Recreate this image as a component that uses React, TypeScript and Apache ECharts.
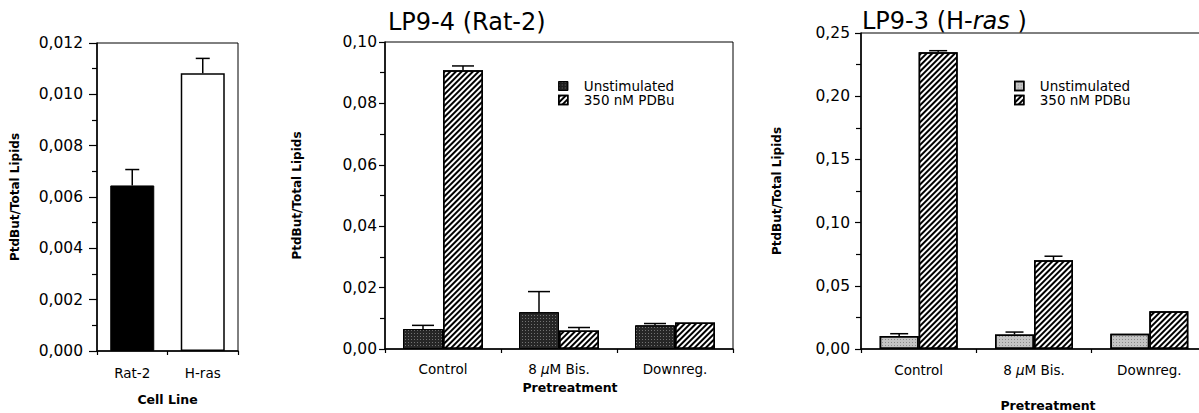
import React, { useEffect, useRef } from 'react';
import * as echarts from 'echarts';

// ---------- data ----------
const cellLines = ['Rat-2', 'H-ras'];
const cellLineValues = [0.00645, 0.01082];
const cellLineErrTop = [0.00707, 0.01140];

const pretreatments = ['Control', '8 µM Bis.', 'Downreg.'];
const seriesNames = ['Unstimulated', '350 nM PDBu'];

// LP9-4 (Rat-2)
const rat2Unstim = [0.0065, 0.0120, 0.0077];
const rat2UnstimErrTop = [0.0077, 0.0187, 0.0083];
const rat2Pdbu = [0.0908, 0.0060, 0.0086];
const rat2PdbuErrTop = [0.0922, 0.0070, null];

// LP9-3 (H-ras)
const hrasUnstim = [0.0102, 0.0115, 0.0121];
const hrasUnstimErrTop = [0.0121, 0.0134, null];
const hrasPdbu = [0.2347, 0.0702, 0.0298];
const hrasPdbuErrTop = [0.2360, 0.0734, null];

const FONT = 'DejaVu Sans';

const hatchDecal = {
  symbol: 'rect',
  symbolSize: 1,
  color: '#000',
  dashArrayX: [1, 0],
  dashArrayY: [1.1, 1.9],
  rotation: -Math.PI / 4,
};
const darkDotDecal = {
  symbol: 'rect',
  symbolSize: 1,
  color: 'rgba(255,255,255,0.35)',
  dashArrayX: [1, 2],
  dashArrayY: [1, 2],
  rotation: 0,
};
const lightDotDecal = {
  symbol: 'rect',
  symbolSize: 1,
  color: 'rgba(90,90,90,0.55)',
  dashArrayX: [1, 2],
  dashArrayY: [1, 2],
  rotation: 0,
};

function errSeries(axis: number, vals: number[], errs: (number | null)[], offsetPx: number, capHalf: number) {
  const data: any[] = [];
  vals.forEach((v, i) => {
    if (errs[i] != null) data.push([i, v, errs[i]]);
  });
  return {
    type: 'custom',
    xAxisIndex: axis,
    yAxisIndex: axis,
    silent: true,
    z: 5,
    data,
    encode: { x: 0, y: 2 },
    renderItem: (params: any, api: any) => {
      const i = api.value(0);
      const p0 = api.coord([i, api.value(1)]);
      const p1 = api.coord([i, api.value(2)]);
      const x = p0[0] + offsetPx;
      const st = { stroke: '#000', lineWidth: 1.5 };
      return {
        type: 'group',
        children: [
          { type: 'line', shape: { x1: x, y1: p0[1], x2: x, y2: p1[1] }, style: st },
          { type: 'line', shape: { x1: x - capHalf, y1: p1[1], x2: x + capHalf, y2: p1[1] }, style: st },
        ],
      };
    },
  };
}

const tickFmt = (d: number) => (v: number) => v.toFixed(d).replace('.', ',');

function yAxis(grid: number, max: number, interval: number, digits: number, nameGap: number, labelMargin: number, tickLen: number) {
  return {
    type: 'value',
    gridIndex: grid,
    min: 0,
    max,
    interval,
    name: 'PtdBut/Total Lipids',
    nameLocation: 'middle',
    nameRotate: 90,
    nameGap,
    nameTextStyle: { fontFamily: FONT, fontSize: 12, fontWeight: 'bold', color: '#000' },
    axisLine: { show: true, lineStyle: { color: '#000', width: 1.5 } },
    axisTick: { show: true, length: tickLen, lineStyle: { color: '#000', width: 1.2 } },
    minorTick: { show: true, splitNumber: 2, length: 5, lineStyle: { color: '#000', width: 1.2 } },
    splitLine: { show: false },
    minorSplitLine: { show: false },
    axisLabel: { fontFamily: FONT, fontSize: 15.5, color: '#000', margin: labelMargin, formatter: tickFmt(digits) },
  };
}

function xAxis(grid: number, cats: string[], name: string, nameGap: number, labelMargin: number, namePad: number) {
  return {
    type: 'category',
    gridIndex: grid,
    data: cats,
    name,
    nameLocation: 'middle',
    nameGap,
    nameTextStyle: { fontFamily: FONT, fontSize: 12.5, fontWeight: 'bold', color: '#000', padding: [0, 0, 0, namePad] },
    axisLine: { show: true, lineStyle: { color: '#000', width: 1.5 } },
    axisTick: { show: true, length: 4, interval: 0, lineStyle: { color: '#000', width: 1.2 } },
    splitLine: { show: false },
    axisLabel: {
      interval: 0,
      fontFamily: FONT,
      fontSize: 13.5,
      color: '#000',
      margin: labelMargin,
      formatter: (v: string) => v.replace('µ', '{i|µ}'),
      rich: { i: { fontFamily: FONT, fontSize: 13.5, fontStyle: 'italic', color: '#000' } },
    },
  };
}

function legendAt(left: number, unstimStyle: any) {
  return {
    orient: 'vertical',
    left,
    top: 79,
    icon: 'rect',
    itemWidth: 9,
    itemHeight: 9,
    itemGap: 0,
    padding: 0,
    selectedMode: false,
    formatter: (n: string) => '{g| }' + n,
    textStyle: {
      fontFamily: FONT,
      fontSize: 13.5,
      color: '#000',
      lineHeight: 14,
      rich: { g: { width: 11, fontSize: 13.5, lineHeight: 14 } },
    },
    data: [
      { name: seriesNames[0], icon: 'rect', itemStyle: unstimStyle },
      { name: seriesNames[1], icon: 'rect', itemStyle: { color: '#fff', borderColor: '#000', borderWidth: 1.5, decal: hatchDecal } },
    ],
  };
}

export default function App() {
  const ref = useRef<HTMLDivElement>(null);
  useEffect(() => {
    if (!ref.current) return;
    const chart = echarts.init(ref.current, null, { renderer: 'svg' });
    const frame = {
      show: true,
      borderColor: '#000',
      borderWidth: 1,
      backgroundColor: 'transparent',
      containLabel: false,
      outerBoundsMode: 'none',
    };
    const option: any = {
      animation: false,
      backgroundColor: '#fff',
      title: [
        {
          text: 'LP9-4 (Rat-2)',
          left: 388,
          top: 10,
          padding: 0,
          textStyle: { fontFamily: FONT, fontSize: 24, fontWeight: 'normal', color: '#000' },
        },
        {
          text: '{a|LP9-3 (H-}{b|ras}{a| )}',
          left: 862,
          top: 9,
          padding: 0,
          textStyle: {
            fontFamily: FONT,
            fontSize: 24,
            fontWeight: 'normal',
            color: '#000',
            rich: {
              a: { fontFamily: FONT, fontSize: 24, color: '#000' },
              b: { fontFamily: FONT, fontSize: 24, fontStyle: 'italic', color: '#000' },
            },
          },
        },
      ],
      legend: [
        legendAt(558, { color: '#1e1e1e', borderColor: '#000', borderWidth: 1, decal: darkDotDecal }),
        legendAt(1014, { color: '#c4c4c4', borderColor: '#000', borderWidth: 1.5, decal: lightDotDecal }),
      ],
      grid: [
        { left: 97, top: 43, width: 141, height: 308, ...frame },
        { left: 385, top: 42, width: 348, height: 307, ...frame },
        { left: 861, top: 33, width: 346, height: 316, ...frame },
      ],
      xAxis: [
        xAxis(0, cellLines, 'Cell Line', 42, 15, 0),
        xAxis(1, pretreatments, 'Pretreatment', 32, 13, 22),
        xAxis(2, pretreatments, 'Pretreatment', 50, 14, 28),
      ],
      yAxis: [
        yAxis(0, 0.012, 0.002, 3, 76, 14, 8),
        yAxis(1, 0.1, 0.02, 2, 82, 8, 6),
        yAxis(2, 0.25, 0.05, 2, 78, 11, 6),
      ],
      series: [
        {
          type: 'bar',
          name: 'Cell lines',
          xAxisIndex: 0,
          yAxisIndex: 0,
          barWidth: 44,
          data: cellLineValues.map((v, i) => ({
            value: v,
            itemStyle: i === 0 ? { color: '#000', borderColor: '#000', borderWidth: 1 } : { color: '#fff', borderColor: '#000', borderWidth: 1.5 },
          })),
        },
        errSeries(0, cellLineValues, cellLineErrTop, 0, 7),
        {
          type: 'bar',
          name: seriesNames[0],
          xAxisIndex: 1,
          yAxisIndex: 1,
          barWidth: 40,
          barGap: '0%',
          itemStyle: { color: '#262626', borderColor: '#000', borderWidth: 1, decal: darkDotDecal },
          data: rat2Unstim,
        },
        {
          type: 'bar',
          name: seriesNames[1],
          xAxisIndex: 1,
          yAxisIndex: 1,
          barWidth: 40,
          barGap: '0%',
          itemStyle: { color: '#fff', borderColor: '#000', borderWidth: 1.5, decal: hatchDecal },
          data: rat2Pdbu,
        },
        errSeries(1, rat2Unstim, rat2UnstimErrTop, -20, 11),
        errSeries(1, rat2Pdbu, rat2PdbuErrTop, 20, 11),
        {
          type: 'bar',
          name: seriesNames[0],
          xAxisIndex: 2,
          yAxisIndex: 2,
          barWidth: 39,
          barGap: '0%',
          itemStyle: { color: '#c4c4c4', borderColor: '#000', borderWidth: 1.5, decal: lightDotDecal },
          data: hrasUnstim,
        },
        {
          type: 'bar',
          name: seriesNames[1],
          xAxisIndex: 2,
          yAxisIndex: 2,
          barWidth: 39,
          barGap: '0%',
          itemStyle: { color: '#fff', borderColor: '#000', borderWidth: 1.5, decal: hatchDecal },
          data: hrasPdbu,
        },
        errSeries(2, hrasUnstim, hrasUnstimErrTop, -19.5, 9),
        errSeries(2, hrasPdbu, hrasPdbuErrTop, 19.5, 9),
      ],
    };
    chart.setOption(option);
    return () => chart.dispose();
  }, []);
  return <div ref={ref} style={{ position: 'fixed', left: 0, top: 0, width: 1199, height: 413 }} />;
}
